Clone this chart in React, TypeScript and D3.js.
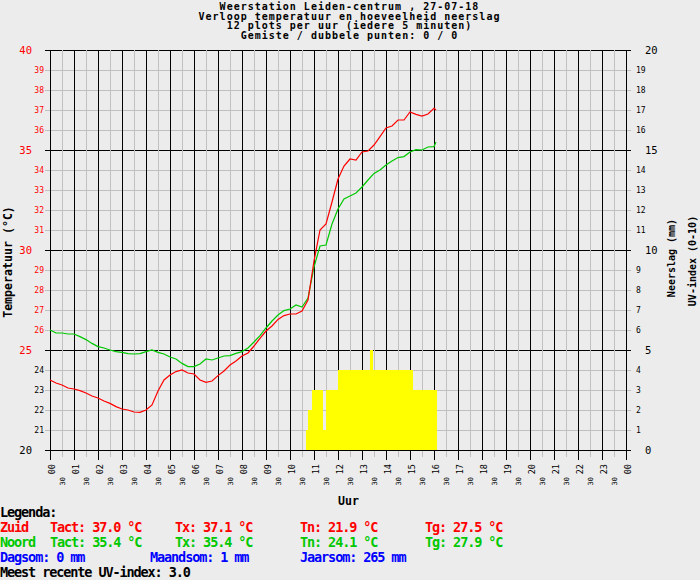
import React from "react";
import * as d3 from "d3";

const titleLines = [
  "Weerstation Leiden-centrum , 27-07-18",
  "Verloop temperatuur en hoeveelheid neerslag",
  "12 plots per uur (iedere 5 minuten)",
  "Gemiste / dubbele punten: 0 / 0",
];

// sample times (hh:mm), read every 15 minutes
const sampleTimes = [
  "00:00", "00:15", "00:30", "00:45", "01:00", "01:15", "01:30", "01:45",
  "02:00", "02:15", "02:30", "02:45", "03:00", "03:15", "03:30", "03:45",
  "04:00", "04:15", "04:30", "04:45", "05:00", "05:15", "05:30", "05:45",
  "06:00", "06:15", "06:30", "06:45", "07:00", "07:15", "07:30", "07:45",
  "08:00", "08:15", "08:30", "08:45", "09:00", "09:15", "09:30", "09:45",
  "10:00", "10:15", "10:30", "10:45", "11:00", "11:15", "11:30", "11:45",
  "12:00", "12:15", "12:30", "12:45", "13:00", "13:15", "13:30", "13:45",
  "14:00", "14:15", "14:30", "14:45", "15:00", "15:15", "15:30", "15:45",
  "16:00", "16:05",
];

const zuidTemp = [
  23.5, 23.35, 23.25, 23.1, 23.05, 22.97, 22.85, 22.7,
  22.6, 22.45, 22.33, 22.17, 22.05, 22.0, 21.9, 21.88,
  22.0, 22.25, 22.95, 23.5, 23.75, 23.92, 24.0, 23.85,
  23.8, 23.5, 23.38, 23.45, 23.72, 23.95, 24.25, 24.45,
  24.7, 24.85, 25.2, 25.58, 25.95, 26.2, 26.53, 26.72,
  26.8, 26.8, 26.95, 27.5, 29.45, 31.0, 31.3, 32.4,
  33.55, 34.2, 34.55, 34.5, 34.9, 34.95, 35.25, 35.67,
  36.1, 36.2, 36.5, 36.5, 36.9, 36.78, 36.7, 36.8,
  37.08, 37.0,
];

const noordTemp = [
  26.0, 25.85, 25.85, 25.8, 25.8, 25.67, 25.52, 25.33,
  25.17, 25.1, 25.0, 24.92, 24.88, 24.82, 24.8, 24.82,
  24.92, 25.0, 24.88, 24.8, 24.65, 24.55, 24.33, 24.17,
  24.17, 24.3, 24.55, 24.5, 24.6, 24.7, 24.72, 24.83,
  24.92, 25.1, 25.4, 25.72, 26.1, 26.45, 26.75, 26.97,
  27.05, 27.25, 27.15, 27.6, 29.15, 30.2, 30.25, 31.3,
  32.05, 32.55, 32.7, 32.85, 33.15, 33.5, 33.83, 34.0,
  34.25, 34.45, 34.62, 34.67, 34.9, 35.02, 35.0, 35.15,
  35.17, 35.4,
];

// UV-index blocks (minutes after midnight)
const uvFrom = [640, 645, 655, 682.5, 690, 720, 800, 807.5, 907.5];
const uvTo = [645, 655, 682.5, 690, 720, 800, 807.5, 907.5, 967.5];
const uvIndex = [1, 2, 3, 1, 3, 4, 5, 4, 3];

const tempTicks = d3.range(20, 41);
const rightTicks = d3.range(0, 21);
const hourTicks = d3.range(0, 25);
const hourLabels = hourTicks.map((h) => String(h % 24).padStart(2, "0"));

const zuidLegend = ["Zuid", "Tact: 37.0 °C", "Tx: 37.1 °C", "Tn: 21.9 °C", "Tg: 27.5 °C"];
const noordLegend = ["Noord", "Tact: 35.4 °C", "Tx: 35.4 °C", "Tn: 24.1 °C", "Tg: 27.9 °C"];
const sumLegend = ["Dagsom: 0 mm", "Maandsom: 1 mm", "Jaarsom: 265 mm"];
const uvLegend = "Meest recente UV-index: 3.0";

const RED = "#ff0000";
const GREEN = "#00c800";
const BLUE = "#0000ff";
const BG = "#ececec";
const GRAY = "#c0c0c0";
const MONO = "'DejaVu Sans Mono', monospace";

const toHours = (s: string) => {
  const [h, m] = s.split(":").map(Number);
  return h + m / 60;
};

export default function App() {
  const W = 700;
  const H = 580;
  const x = d3.scaleLinear().domain([0, 24]).range([50, 626]);
  const yT = d3.scaleLinear().domain([20, 40]).range([450, 50]);
  const yR = d3.scaleLinear().domain([0, 20]).range([450, 50]);

  const tHours = sampleTimes.map(toHours);
  const line = d3
    .line<number>()
    .x((_, i) => x(tHours[i]))
    .y((d) => yT(d));

  const halfHours = d3.range(0, 48.5).map((i) => i / 2);

  return (
    <svg
      width={W}
      height={H}
      style={{ position: "absolute", left: 0, top: 0, background: BG }}
      fontFamily={MONO}
    >
      <rect width={W} height={H} fill={BG} />

      {titleLines.map((t, i) => (
        <text
          key={t}
          x={349.5}
          y={10 + i * 9.5}
          textAnchor="middle"
          fontSize={10}
          letterSpacing={1}
          fontWeight="bold"
        >
          {t}
        </text>
      ))}

      {/* grid */}
      <g shapeRendering="crispEdges">
        {tempTicks.map((v) => (
          <line
            key={"h" + v}
            x1={45}
            x2={631}
            y1={yT(v) + 0.5}
            y2={yT(v) + 0.5}
            stroke={v % 5 === 0 ? "#000" : GRAY}
          />
        ))}
        {halfHours.map((h) => (
          <line
            key={"v" + h}
            x1={x(h) + 0.5}
            x2={x(h) + 0.5}
            y1={50}
            y2={h % 1 === 0 ? 460 : 457}
            stroke={h % 1 === 0 ? "#000" : GRAY}
          />
        ))}
      </g>

      {/* UV-index */}
      <g shapeRendering="crispEdges">
        {uvIndex.map((u, i) => (
          <rect
            key={"uv" + i}
            x={x(uvFrom[i] / 60)}
            width={x(uvTo[i] / 60) - x(uvFrom[i] / 60)}
            y={yR(u)}
            height={yR(0) - yR(u)}
            fill="#ffff00"
          />
        ))}
        <line x1={45} x2={631} y1={yT(20) + 0.5} y2={yT(20) + 0.5} stroke="#000" />
      </g>

      {/* temperature */}
      <path d={line(noordTemp) ?? ""} fill="none" stroke={GREEN} strokeWidth={1.2} />
      <path d={line(zuidTemp) ?? ""} fill="none" stroke={RED} strokeWidth={1.2} />

      {/* left axis */}
      {tempTicks.map((v) => {
        const major = v % 5 === 0;
        return (
          <text
            key={"lt" + v}
            x={major ? 32 : 44}
            y={yT(v)}
            dy="0.36em"
            textAnchor="end"
            fontSize={major ? 10.5 : 8}
            fill={v >= 25 ? RED : "#000"}
          >
            {v}
          </text>
        );
      })}

      {/* right axis */}
      {rightTicks.map((v) => {
        const major = v % 5 === 0;
        return (
          <text
            key={"rt" + v}
            x={major ? 645 : 636}
            y={yR(v)}
            dy="0.36em"
            fontSize={major ? 10.5 : 8}
            fill="#000"
          >
            {v}
          </text>
        );
      })}

      {/* bottom axis */}
      {hourTicks.map((h, i) => (
        <text
          key={"hx" + h}
          transform={`translate(${x(h) + 1.5},464) rotate(-90)`}
          textAnchor="end"
          dominantBaseline="central"
          fontSize={8.5}
        >
          {hourLabels[i]}
        </text>
      ))}
      {hourTicks.slice(0, 24).map((h) => (
        <text
          key={"hh" + h}
          transform={`translate(${x(h + 0.5) + 1},477) rotate(-90)`}
          textAnchor="end"
          dominantBaseline="central"
          fontSize={7}
        >
          30
        </text>
      ))}

      {/* axis titles */}
      <text x={338} y={505} fontSize={11.6} fontWeight="bold">
        Uur
      </text>
      <text
        transform="translate(8,262) rotate(-90)"
        textAnchor="middle"
        dominantBaseline="central"
        fontSize={11.6}
        fontWeight="bold"
      >
        Temperatuur (°C)
      </text>
      <text
        transform="translate(671,258) rotate(-90)"
        textAnchor="middle"
        dominantBaseline="central"
        fontSize={10}
        fontWeight="bold"
      >
        Neerslag (mm)
      </text>
      <text
        transform="translate(692,261) rotate(-90)"
        textAnchor="middle"
        dominantBaseline="central"
        fontSize={10}
        fontWeight="bold"
      >
        UV-index (0-10)
      </text>

      {/* legend */}
      <g fontSize={13.5} letterSpacing={-1.1} fontWeight="bold">
        <text x={0} y={517}>Legenda:</text>
        {zuidLegend.map((t, i) => (
          <text key={"z" + i} x={i === 0 ? 0 : 50 + (i - 1) * 125} y={532} fill={RED}>
            {t}
          </text>
        ))}
        {noordLegend.map((t, i) => (
          <text key={"n" + i} x={i === 0 ? 0 : 50 + (i - 1) * 125} y={547} fill={GREEN}>
            {t}
          </text>
        ))}
        {sumLegend.map((t, i) => (
          <text key={"s" + i} x={i * 150} y={562} fill={BLUE}>
            {t}
          </text>
        ))}
        <text x={0} y={577}>{uvLegend}</text>
      </g>
    </svg>
  );
}
